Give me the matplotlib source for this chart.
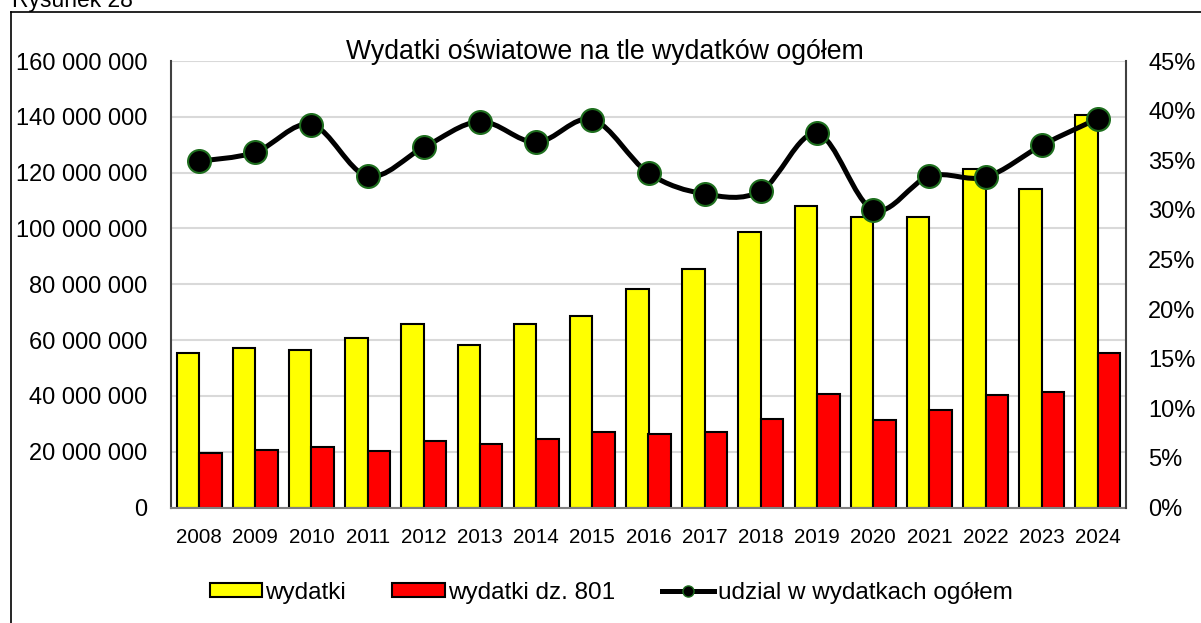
import numpy as np
import matplotlib
matplotlib.use('Agg')
import matplotlib.pyplot as plt
from matplotlib.path import Path
from matplotlib.patches import PathPatch, Patch
from matplotlib.lines import Line2D
from matplotlib.ticker import FuncFormatter

# data
years = ['2008', '2009', '2010', '2011', '2012', '2013', '2014', '2015', '2016',
         '2017', '2018', '2019', '2020', '2021', '2022', '2023', '2024']
wydatki = [55.5, 57.2, 56.4, 60.6, 65.6, 58.3, 65.9, 68.7, 78.2,
           85.4, 98.7, 107.9, 104.1, 104.2, 121.3, 114.0, 140.5]  # mln zl
wydatki_801 = [19.4, 20.5, 21.8, 20.3, 23.8, 22.8, 24.4, 26.9, 26.4,
               26.9, 31.7, 40.6, 31.2, 34.9, 40.4, 41.4, 55.3]  # mln zl
udzial = [34.9, 35.8, 38.6, 33.4, 36.3, 38.9, 36.8, 39.1, 33.7,
          31.6, 31.9, 37.7, 30.0, 33.4, 33.3, 36.5, 39.2]  # %

wydatki = np.array(wydatki) * 1e6
wydatki_801 = np.array(wydatki_801) * 1e6
udzial = np.array(udzial) / 100

plt.rcParams['font.family'] = ['Liberation Sans', 'DejaVu Sans']

green = '#1e6e1e'
W, H = 1201, 623
fig = plt.figure(figsize=(W / 100, H / 100), dpi=100)

# frame around chart (cut at right and bottom)
fig.add_artist(Line2D([11 / W, 11 / W], [0, 1 - 12 / H], color='black', lw=1.2, transform=fig.transFigure))
fig.add_artist(Line2D([11 / W, 1], [1 - 12 / H, 1 - 12 / H], color='black', lw=1.2, transform=fig.transFigure))
fig.text(12 / W, 1 - 7 / H, 'Rysunek 28', fontsize=16.5, ha='left', va='baseline')

ax = fig.add_axes([171 / W, 1 - 507.5 / H, (1126 - 171) / W, (507.5 - 61) / H])
x = np.arange(len(years))
ax.bar(x - 0.2, wydatki, width=0.4, color='#ffff00', edgecolor='black', linewidth=1.5, zorder=2)
ax.bar(x + 0.2, wydatki_801, width=0.4, color='#ff0000', edgecolor='black', linewidth=1.5, zorder=2)
ax.set_xlim(-0.5, len(years) - 0.5)
ax.set_ylim(0, 160e6)
ax.set_yticks(np.arange(0, 160e6 + 1, 20e6))
ax.yaxis.set_major_formatter(FuncFormatter(lambda v, p: f'{int(v):,}'.replace(',', ' ')))
ax.set_xticks(x)
ax.set_xticklabels(years)
ax.tick_params(axis='y', length=0, pad=17, labelsize=17)
ax.tick_params(axis='x', length=0, pad=15, labelsize=14.8)
ax.grid(axis='y', color='#d9d9d9', lw=1.5, zorder=0)
ax.set_axisbelow(True)
for s in ['top', 'right']:
    ax.spines[s].set_visible(False)
ax.spines['left'].set_color('#404040')
ax.spines['left'].set_linewidth(1.5)
ax.spines['bottom'].set_color('#808080')
ax.spines['bottom'].set_linewidth(1.5)

ax2 = ax.twinx()
ax2.set_ylim(0, 0.45)
ax2.set_yticks(np.arange(0, 0.451, 0.05))
ax2.yaxis.set_major_formatter(FuncFormatter(lambda v, p: f'{v * 100:.0f}%'))
ax2.tick_params(axis='y', length=0, pad=16, labelsize=17)
for s in ['top', 'left', 'bottom']:
    ax2.spines[s].set_visible(False)
ax2.spines['right'].set_color('#404040')
ax2.spines['right'].set_linewidth(1.5)

# smoothed line (Excel-like bezier through the points)
pts = np.column_stack([x, udzial])
verts = [pts[0]]
codes = [Path.MOVETO]
n = len(pts)
for i in range(n - 1):
    p0 = pts[max(i - 1, 0)]
    p1 = pts[i]
    p2 = pts[i + 1]
    p3 = pts[min(i + 2, n - 1)]
    c1 = p1 + (p2 - p0) / 6
    c2 = p2 - (p3 - p1) / 6
    verts += [c1, c2, p2]
    codes += [Path.CURVE4] * 3
ax2.add_patch(PathPatch(Path(verts, codes), facecolor='none', edgecolor='black', lw=3.6, zorder=3))
ax2.plot(x, udzial, linestyle='none', marker='o', markersize=16.5, markerfacecolor='black',
         markeredgecolor=green, markeredgewidth=1.5, zorder=4)

fig.text(605 / W, 1 - 59 / H, 'Wydatki oświatowe na tle wydatków ogółem', fontsize=19.2,
         ha='center', va='baseline')

handles = [Patch(facecolor='#ffff00', edgecolor='black', linewidth=1.5),
           Patch(facecolor='#ff0000', edgecolor='black', linewidth=1.5),
           Line2D([], [], color='black', lw=3.6, marker='o', markersize=8,
                  markerfacecolor='black', markeredgecolor=green, markeredgewidth=1)]
labels = ['wydatki', 'wydatki dz. 801', 'udzial w wydatkach ogółem']
fig.legend(handles, labels, loc='center', bbox_to_anchor=(611 / W, 1 - 593 / H), ncol=3,
           frameon=False, fontsize=17.5, handlelength=2.15, handleheight=0.5,
           handletextpad=0.15, columnspacing=1.9, numpoints=1)

fig.savefig('out.png', dpi=100)
